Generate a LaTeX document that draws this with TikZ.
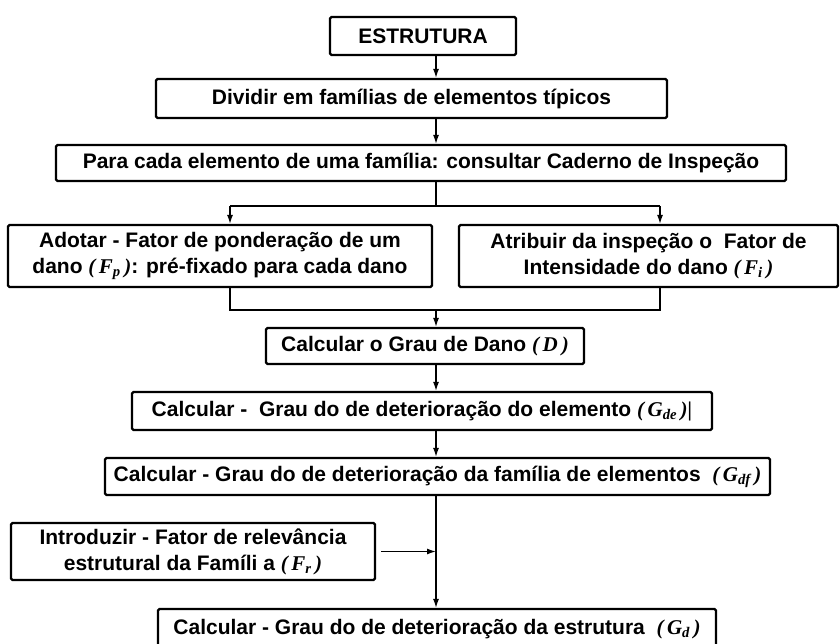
\documentclass[tikz,border=0pt]{standalone}
\usepackage{fontspec}
\setmainfont{Liberation Sans}
\newfontfamily\tms{Liberation Serif}
\usetikzlibrary{arrows.meta}
\newcommand{\fator}[2]{{\tms\bfseries\itshape(\,#1\textsubscript{#2}\,)}}

\begin{document}
\begin{tikzpicture}[x=1pt,y=-1pt,
  flowbox/.style={rectangle,rounded corners=1.5pt,draw=black,line width=2.2pt,fill=white,align=center,inner sep=2pt,font=\fontsize{21}{26}\selectfont\bfseries},
  link/.style={draw=black,line width=1.3pt},
  arr/.style={link,-{Latex[length=9pt,width=6pt]}}]
\useasboundingbox (0,0) rectangle (840,643);
\coordinate (sp) at (436,0);
\node[flowbox,minimum width=186pt,minimum height=38pt] (top) at (423,36) {ESTRUTURA};
\node[flowbox,minimum width=511pt,minimum height=39pt] (div) at (411.5,98.5) {Dividir em famílias de elementos típicos};
\draw[arr] (top.south -| sp) -- (div.north -| sp);
\node[flowbox,minimum width=730pt,minimum height=36pt] (para) at (421,163) {Para cada elemento de uma família: consultar Caderno de Inspeção};
\draw[arr] (div.south -| sp) -- (para.north -| sp);
\node[flowbox,minimum width=424pt,minimum height=62pt] (adot) at (220,256) {Adotar - Fator de ponderação de um\\dano \fator{F}{p}: pré-fixado para cada dano};
\node[flowbox,minimum width=379pt,minimum height=62pt] (atrib) at (648.5,256) {Atribuir da inspeção o\ \ Fator de\\Intensidade do dano \fator{F}{i}};
% ramos
\coordinate (bl) at (230,206);
\coordinate (br) at (660,206);
\draw[link] (para.south -| sp) -- (bl -| sp);
\draw[link] (bl) -- (br);
\draw[arr] (bl) -- (adot.north -| bl);
\draw[arr] (br) -- (atrib.north -| br);
\node[flowbox,minimum width=318pt,minimum height=36pt] (dano) at (425,346) {Calcular o Grau de Dano \fator{D}{}};
\coordinate (jl) at (230,310);
\coordinate (jr) at (660,310);
\draw[link] (adot.south -| jl) -- (jl) -- (jr) -- (atrib.south -| jr);
\draw[arr] (jl -| sp) -- (dano.north -| sp);
\node[flowbox,minimum width=580pt,minimum height=38pt] (gde) at (422,411) {Calcular -\ \ Grau do de deterioração do elemento {\tms\bfseries\itshape(\,G\textsubscript{de}\,)|}};
\draw[arr] (dano.south -| sp) -- (gde.north -| sp);
\node[flowbox,minimum width=665pt,minimum height=37pt] (gdf) at (437.5,476.5) {Calcular - Grau do de deterioração da família de elementos\ \ \fator{G}{df}};
\draw[arr] (gde.south -| sp) -- (gdf.north -| sp);
\node[flowbox,minimum width=364pt,minimum height=57pt] (intro) at (193,551.5) {Introduzir - Fator de relevância\\estrutural da Famíli a \fator{F}{r}};
\node[flowbox,minimum width=558pt,minimum height=40pt] (final) at (437,629) {Calcular - Grau do de deterioração da estrutura\ \ \fator{G}{d}};
\draw[arr] (gdf.south -| sp) -- (final.north -| sp);
\draw[arr] ([xshift=5pt]intro.east) -- (intro.east -| sp);
\end{tikzpicture}
\end{document}
